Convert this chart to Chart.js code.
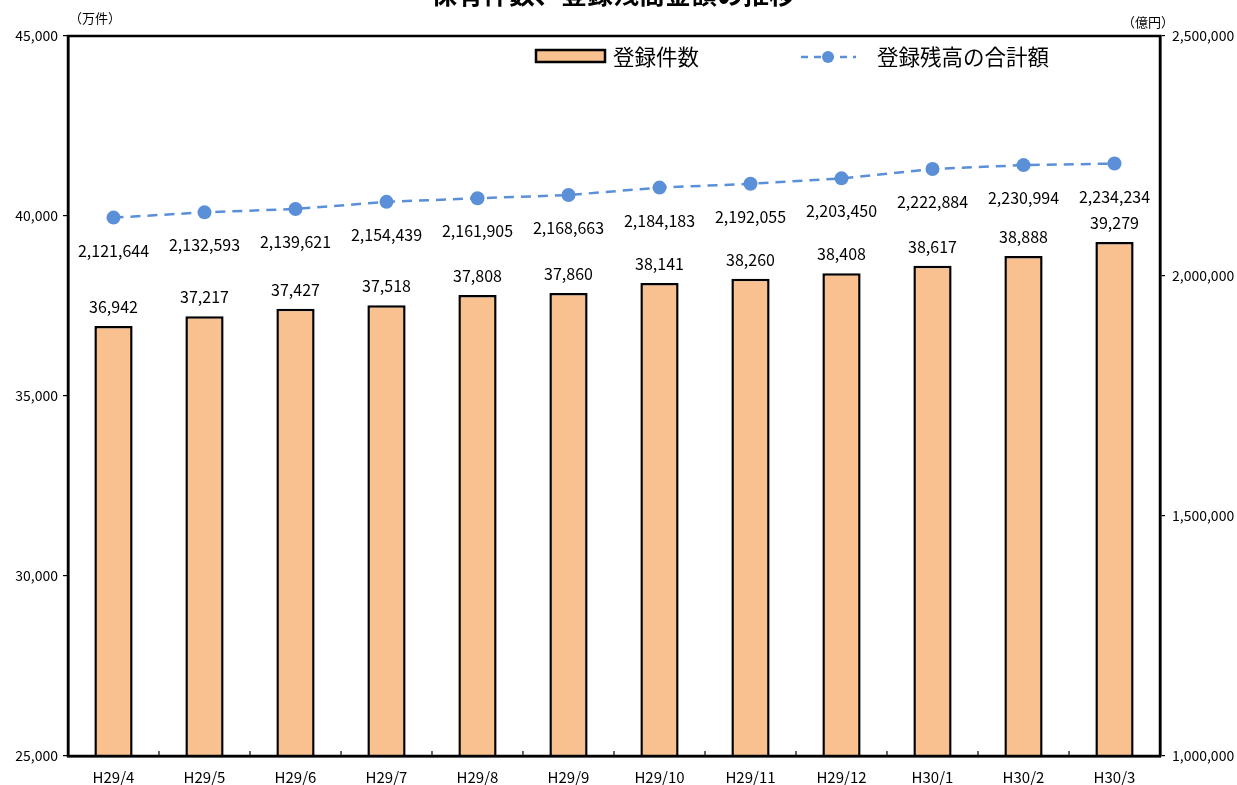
<!DOCTYPE html>
<html><head><meta charset="utf-8">
<script src="https://cdn.jsdelivr.net/npm/chart.js@4.4.1/dist/chart.umd.min.js"></script>
<style>html,body{margin:0;padding:0;background:#fff;overflow:hidden}canvas{display:block}</style>
</head><body>
<canvas id="c" width="1237" height="785"></canvas>
<script>
const titleText = '保有件数、登録残高金額の推移';
const leftUnit = '（万件）';
const rightUnit = '（億円）';
const categories = ['H29/4','H29/5','H29/6','H29/7','H29/8','H29/9','H29/10','H29/11','H29/12','H30/1','H30/2','H30/3'];
const countLabel = '登録件数';
const counts = [36942, 37217, 37427, 37518, 37808, 37860, 38141, 38260, 38408, 38617, 38888, 39279];
const balanceLabel = '登録残高の合計額';
const balances = [2121644, 2132593, 2139621, 2154439, 2161905, 2168663, 2184183, 2192055, 2203450, 2222884, 2230994, 2234234];

const FONT = '"Noto Sans CJK JP", "Noto Sans", sans-serif';
const BAR_FILL = '#F9C190';
const LINE_COLOR = '#5B8FD8';
const fmt = v => Number(v).toLocaleString('en-US');

const overlay = {
  id: 'overlay',
  afterDatasetsDraw(chart) {
    const ctx = chart.ctx, a = chart.chartArea;
    ctx.save();
    // plot frame
    ctx.strokeStyle = '#000'; ctx.lineWidth = 2.5;
    ctx.strokeRect(a.left, a.top, a.right - a.left, a.bottom - a.top);
    // inner category ticks on x axis
    const xs = chart.scales.x;
    ctx.lineWidth = 1.2;
    for (let i = 1; i < categories.length; i++) {
      const x = (xs.getPixelForValue(i - 1) + xs.getPixelForValue(i)) / 2;
      ctx.beginPath(); ctx.moveTo(x, a.bottom); ctx.lineTo(x, a.bottom - 5); ctx.stroke();
    }
    // data labels
    ctx.fillStyle = '#000';
    ctx.font = '16px ' + FONT;
    ctx.textAlign = 'center'; ctx.textBaseline = 'middle';
    const barMeta = chart.getDatasetMeta(0);
    barMeta.data.forEach((el, i) => { ctx.fillText(fmt(counts[i]), el.x, el.y - 19); });
    const lineMeta = chart.getDatasetMeta(1);
    lineMeta.data.forEach((el, i) => { ctx.fillText(fmt(balances[i]), el.x, el.y + 33); });
    // legend
    ctx.lineWidth = 2.5; ctx.strokeStyle = '#000'; ctx.fillStyle = BAR_FILL;
    ctx.fillRect(536, 50, 69, 12); ctx.strokeRect(536, 50, 69, 12);
    ctx.fillStyle = '#000'; ctx.font = '21.5px ' + FONT; ctx.textAlign = 'left';
    ctx.fillText(countLabel, 613, 57);
    ctx.strokeStyle = LINE_COLOR; ctx.lineWidth = 2.5; ctx.setLineDash([7, 6]);
    ctx.beginPath(); ctx.moveTo(801, 57); ctx.lineTo(856, 57); ctx.stroke();
    ctx.setLineDash([]);
    ctx.fillStyle = LINE_COLOR; ctx.beginPath(); ctx.arc(828, 57, 6, 0, Math.PI * 2); ctx.fill();
    ctx.fillStyle = '#000'; ctx.fillText(balanceLabel, 877, 57);
    // units
    ctx.font = '13px ' + FONT; ctx.textAlign = 'center';
    ctx.fillText(leftUnit, 95, 18);
    ctx.fillText(rightUnit, 1148, 22);
    // title (cut off at top)
    ctx.font = 'bold 26px ' + FONT; ctx.textBaseline = 'alphabetic';
    ctx.fillText(titleText, 613, 4);
    ctx.restore();
  }
};

new Chart(document.getElementById('c'), {
  data: {
    labels: categories,
    datasets: [
      { type: 'bar', label: countLabel, data: counts, yAxisID: 'y', order: 2,
        backgroundColor: BAR_FILL, borderColor: '#000', borderWidth: 2.5, borderSkipped: 'bottom',
        barPercentage: 0.42, categoryPercentage: 1.0 },
      { type: 'line', label: balanceLabel, data: balances, yAxisID: 'y1', order: 1,
        borderColor: LINE_COLOR, borderWidth: 2.5, borderDash: [10, 7], tension: 0,
        pointRadius: 7, pointBackgroundColor: LINE_COLOR, pointBorderColor: LINE_COLOR, pointBorderWidth: 0 }
    ]
  },
  options: {
    responsive: false, animation: false, locale: 'en-US',
    layout: { padding: { top: 36, left: 0, right: 0, bottom: 0 } },
    plugins: { legend: { display: false }, tooltip: { enabled: false }, title: { display: false } },
    scales: {
      x: {
        offset: true,
        grid: { display: false, drawTicks: false, tickLength: 0 },
        border: { display: true, color: '#000', width: 2.5 },
        ticks: { color: '#000', font: { family: FONT, size: 15 }, padding: 12, maxRotation: 0, autoSkip: false },
        afterFit(s) { s.height = 29; }
      },
      y: {
        position: 'left', min: 25000, max: 45000,
        ticks: { stepSize: 5000, color: '#000', font: { family: FONT, size: 14 }, padding: 5, callback: v => fmt(v) },
        grid: { drawOnChartArea: false, drawTicks: true, tickLength: 5, color: '#000', lineWidth: 1.2 },
        border: { display: true, color: '#000', width: 2.5 },
        afterFit(s) { s.width = 68; }
      },
      y1: {
        position: 'right', min: 1000000, max: 2500000,
        ticks: { stepSize: 500000, color: '#000', font: { family: FONT, size: 14 }, padding: 7, callback: v => fmt(v) },
        grid: { drawOnChartArea: false, drawTicks: true, tickLength: 5, color: '#000', lineWidth: 1.2 },
        border: { display: true, color: '#000', width: 2.5 },
        afterFit(s) { s.width = 77; }
      }
    }
  },
  plugins: [overlay]
});
</script>
</body></html>
